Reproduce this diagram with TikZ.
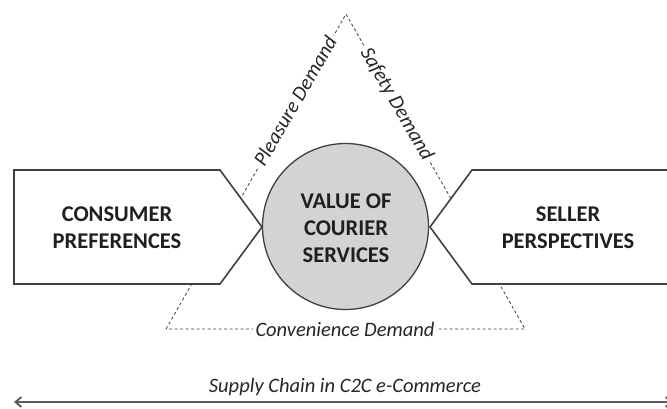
\documentclass[tikz,border=0pt]{standalone}
\usepackage{fontspec}
\setmainfont{Carlito}
\usetikzlibrary{arrows.meta}
\definecolor{linegray}{HTML}{404040}
\definecolor{circfill}{HTML}{D3D3D3}
\definecolor{arrowgray}{HTML}{5A5A5A}
\begin{document}
\begin{tikzpicture}[x=1pt,y=-1pt,
  boxtext/.style={font=\fontsize{22.5}{27}\selectfont\bfseries, align=center, text=black!88},
  demand/.style={font=\fontsize{20.5}{24}\selectfont\itshape, fill=white, inner sep=3pt, text=black!85},
  tri/.style={draw=linegray, dashed, dash pattern=on 3pt off 2.5pt, line width=0.8pt},
  pent/.style={draw=linegray, line width=1.6pt, fill=white, line join=miter},
]
\useasboundingbox (0,0) rectangle (667,408);
\clip (0,0) rectangle (667,408);
% triangle
\coordinate (apex) at (346,14);
\coordinate (bl) at (166,329);
\coordinate (br) at (525,329);
\draw[tri] (bl) -- (apex) -- (br) -- cycle;
% pentagons
\draw[pent] (14,170) -- (220,170) -- (262,227) -- (220,284) -- (14,284) -- cycle;
\draw[pent] (700,170) -- (472,170) -- (430,227) -- (472,284) -- (700,284) -- cycle;
% circle
\node[circle, draw=linegray, line width=1.3pt, fill=circfill, minimum size=166pt, inner sep=0pt] (val) at (345.5,226.5) {};
\node[boxtext] (valt) at (346,228) {VALUE OF\\COURIER\\SERVICES};
\node[boxtext] (cons) at (117,228) {CONSUMER\\PREFERENCES};
\node[boxtext] (sell) at (568,228) {SELLER\\PERSPECTIVES};
% demand labels
\node[demand, rotate=60] (pleas) at (295,101) {Pleasure Demand};
\node[demand, rotate=-60] (safe) at (396.5,104) {Safety Demand};
\node[demand] (conv) at (345,329) {Convenience Demand};
% supply chain
\coordinate (sl) at (14,402);
\coordinate (sr) at (673,402);
\draw[{Straight Barb[length=6pt,width=10pt]}-{Straight Barb[length=6pt,width=10pt]}, draw=arrowgray, line width=1.8pt] (sl) -- (sr);
\node[font=\fontsize{20.5}{24}\selectfont\itshape, text=black!85] (sc) at (345,387) {Supply Chain in C2C e-Commerce};
\end{tikzpicture}
\end{document}
